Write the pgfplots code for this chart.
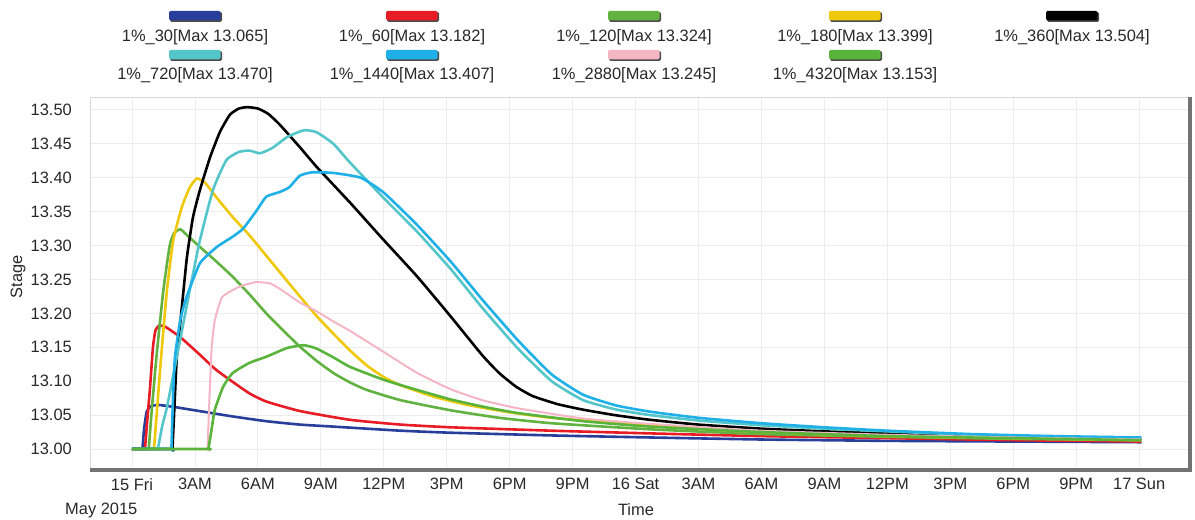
\documentclass[border=0pt]{standalone}
\usepackage{fontspec}
\setmainfont{Liberation Sans}
\usepackage{pgfplots}
\pgfplotsset{compat=1.18}
\definecolor{cA}{RGB}{40,62,155}
\definecolor{cB}{RGB}{232,28,36}
\definecolor{cC}{RGB}{98,178,66}
\definecolor{cD}{RGB}{240,200,10}
\definecolor{cE}{RGB}{0,0,0}
\definecolor{cF}{RGB}{84,198,202}
\definecolor{cG}{RGB}{30,176,230}
\definecolor{cH}{RGB}{244,182,196}
\definecolor{cI}{RGB}{90,180,60}
\definecolor{txt}{RGB}{40,40,40}
\newcommand\tf{\fontsize{16.5}{19}\selectfont}
\begin{document}
\begin{tikzpicture}[x=1bp,y=1bp]
\path[use as bounding box] (0,0) rectangle (1195,520);
\begin{axis}[name=ax, at={(90bp,52bp)}, anchor=south west, scale only axis,
  width=1098bp, height=371bp,
  xmin=-2.0, xmax=50.33, ymin=12.972, ymax=13.519,
  axis line style={draw=none}, major tick length=0pt,
  /pgf/number format/assume math mode=true,
  xtick={0,3,...,48},
  xticklabels={15 Fri,3AM,6AM,9AM,12PM,3PM,6PM,9PM,16 Sat,3AM,6AM,9AM,12PM,3PM,6PM,9PM,17 Sun},
  ytick={13.00,13.05,13.10,13.15,13.20,13.25,13.30,13.35,13.40,13.45,13.50},
  yticklabel={\pgfmathprintnumber[fixed,fixed zerofill,precision=2]{\tick}},
  yticklabel style={font=\tf, text=txt, anchor=east, inner sep=0pt, xshift=-18bp},
  xticklabel style={font=\tf, text=txt, anchor=north, inner sep=0pt, yshift=-10bp},
  xmajorgrids, ymajorgrids,
  major grid style={color=black!7, line width=0.8bp},
  extra y ticks={13.00,13.25,13.50}, extra y tick labels={},
  extra y tick style={grid style={color=black!18, line width=1bp}},
  extra x ticks={24,42}, extra x tick labels={},
  extra x tick style={grid style={color=black!16, line width=1bp}},
  every axis plot/.append style={line width=2.6bp, line join=round, no markers, smooth, tension=0.3},
]
\addplot[cA] coordinates {(0,13.000) (0.47,13.000) (0.50,13.001) (0.58,13.030) (0.70,13.055) (0.90,13.063) (1.25,13.065) (2.0,13.062) (3.2,13.056) (4.8,13.048) (6.4,13.041) (8.0,13.036) (9.6,13.033) (12.8,13.027) (15.2,13.024) (20,13.020) (24.7,13.017) (30,13.014) (36,13.012) (42,13.011) (48.1,13.010)};
\addplot[cB] coordinates {(0,13.000) (0.59,13.000) (0.62,13.001) (0.75,13.050) (0.86,13.090) (1.0,13.150) (1.12,13.175) (1.3,13.182) (1.6,13.180) (2.3,13.165) (3.2,13.140) (4.0,13.117) (4.8,13.099) (5.6,13.082) (6.4,13.070) (8.0,13.056) (10.4,13.043) (12.8,13.036) (15.2,13.032) (20,13.027) (24.7,13.023) (30,13.019) (36,13.016) (42,13.013) (48.1,13.011)};
\addplot[cC] coordinates {(0,13.000) (0.77,13.000) (0.80,13.001) (0.95,13.060) (1.18,13.140) (1.5,13.235) (1.8,13.300) (2.0,13.318) (2.3,13.324) (2.6,13.316) (3.2,13.299) (4.0,13.277) (4.8,13.254) (5.6,13.228) (6.4,13.200) (7.2,13.175) (8.0,13.151) (8.8,13.130) (9.6,13.112) (10.4,13.098) (11.2,13.087) (12.8,13.072) (15.2,13.057) (17.5,13.046) (20,13.038) (24.7,13.029) (30,13.022) (36,13.018) (42,13.015) (48.1,13.013)};
\addplot[cD] coordinates {(0,13.000) (1.02,13.000) (1.05,13.001) (1.2,13.060) (1.4,13.140) (1.67,13.235) (1.97,13.308) (2.38,13.357) (2.76,13.386) (3.1,13.399) (3.5,13.392) (4.0,13.372) (4.8,13.342) (5.6,13.315) (6.4,13.285) (7.2,13.255) (8.0,13.225) (8.8,13.196) (9.6,13.170) (10.4,13.145) (11.2,13.123) (12.0,13.106) (12.8,13.094) (14.4,13.077) (16,13.065) (18,13.054) (20,13.046) (24.7,13.034) (30,13.025) (36,13.019) (42,13.016) (48.1,13.013)};
\addplot[cE] coordinates {(0,13.000) (1.90,13.000) (1.93,13.001) (2.05,13.080) (2.14,13.136) (2.38,13.210) (2.62,13.283) (2.91,13.342) (3.24,13.382) (3.72,13.430) (4.2,13.468) (4.67,13.493) (5.1,13.502) (5.5,13.504) (6.0,13.502) (6.5,13.494) (7.05,13.478) (8.0,13.445) (8.8,13.416) (10.4,13.363) (12.0,13.308) (13.6,13.254) (15.2,13.195) (16.7,13.138) (17.5,13.112) (18.3,13.092) (19.1,13.078) (20.3,13.066) (21.5,13.058) (23,13.050) (24.7,13.043) (27,13.036) (30,13.030) (33,13.026) (36,13.023) (40,13.019) (44,13.017) (48.1,13.015)};
\addplot[cF] coordinates {(0,13.000) (1.21,13.000) (1.24,13.001) (1.45,13.035) (1.67,13.062) (2.14,13.136) (2.76,13.235) (3.24,13.308) (3.86,13.382) (4.5,13.426) (5.1,13.438) (5.6,13.440) (6.1,13.436) (6.7,13.444) (7.4,13.460) (8.2,13.470) (8.8,13.467) (9.6,13.450) (10.4,13.422) (12,13.370) (13.6,13.320) (15.2,13.265) (16.7,13.208) (18.4,13.148) (20,13.100) (21.5,13.072) (23.1,13.058) (24.7,13.050) (27,13.042) (30,13.035) (33,13.030) (36,13.026) (40,13.021) (44,13.018) (48.1,13.016)};
\addplot[cG] coordinates {(0,13.000) (1.85,13.000) (1.88,13.001) (1.96,13.080) (2.05,13.136) (2.3,13.190) (2.6,13.224) (3.24,13.274) (4.05,13.298) (4.8,13.313) (5.3,13.325) (5.95,13.352) (6.4,13.372) (7.05,13.379) (7.5,13.386) (8.0,13.403) (8.6,13.408) (9.6,13.407) (10.9,13.400) (12,13.378) (13.6,13.330) (15.2,13.276) (16.7,13.220) (18.4,13.160) (20,13.110) (21.5,13.080) (23.1,13.064) (24.7,13.055) (27,13.046) (30,13.038) (33,13.032) (36,13.027) (40,13.022) (44,13.019) (48.1,13.017)};
\addplot[cH, line width=2bp] coordinates {(0,13.000) (3.57,13.000) (3.6,13.001) (3.7,13.080) (3.8,13.150) (3.95,13.190) (4.3,13.224) (5.1,13.239) (5.9,13.246) (6.6,13.244) (7.2,13.233) (8.0,13.216) (8.8,13.203) (9.6,13.188) (10.4,13.174) (12,13.143) (13.6,13.112) (15.2,13.088) (16.7,13.072) (18.4,13.060) (21.5,13.045) (24.7,13.037) (30,13.027) (36,13.021) (42,13.017) (48.1,13.014)};
\addplot[cI] coordinates {(0,13.000) (3.62,13.000) (3.65,13.001) (3.8,13.030) (3.95,13.058) (4.35,13.092) (4.8,13.112) (5.6,13.127) (6.4,13.136) (7.4,13.149) (8.2,13.153) (8.8,13.148) (9.6,13.135) (10.4,13.121) (12,13.102) (13.6,13.087) (15.2,13.073) (16.8,13.062) (18.4,13.053) (21.5,13.041) (24.7,13.033) (30,13.025) (36,13.019) (42,13.016) (48.1,13.013)};
\end{axis}
% frame
\draw[black!15, line width=0.8bp] (ax.south west) -- (ax.north west) -- (ax.north east);
\draw[black!55, line width=4.5bp] ([xshift=0bp,yshift=-2bp]ax.south west) -- ([xshift=2bp,yshift=-2bp]ax.south east) -- ([xshift=2bp]ax.north east);
% axis titles
\node[font=\tf, text=txt, anchor=west, inner sep=0pt] at (65,10) {May 2015};
\node[font=\tf, text=txt, inner sep=0pt] at (636,10) {Time};
\node[font=\tf, text=txt, rotate=90, inner sep=0pt] at (18,243) {Stage};
% legend
\foreach \x/\y/\c/\t in {195/0/cA/{1\%\_30[Max 13.065]}, 412/0/cB/{1\%\_60[Max 13.182]}, 634/0/cC/{1\%\_120[Max 13.324]}, 855/0/cD/{1\%\_180[Max 13.399]}, 1072/0/cE/{1\%\_360[Max 13.504]}, 195/1/cF/{1\%\_720[Max 13.470]}, 412/1/cG/{1\%\_1440[Max 13.407]}, 634/1/cH/{1\%\_2880[Max 13.245]}, 855/1/cI/{1\%\_4320[Max 13.153]}}{
  \pgfmathsetmacro\sy{504-39*\y}
  \pgfmathsetmacro\ty{483-38*\y}
  \fill[black!70, rounded corners=1.5bp] (\x-25,\sy-6) rectangle (\x+27,\sy+4);
  \fill[\c, rounded corners=1.5bp] (\x-26,\sy-4.5) rectangle (\x+25.5,\sy+5);
  \node[font=\tf, text=txt, inner sep=0pt] at (\x,\ty) {\t};
}
\end{tikzpicture}
\end{document}
